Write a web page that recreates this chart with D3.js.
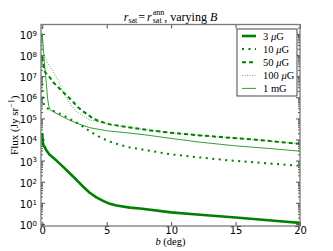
<!DOCTYPE html>
<html>
  <head>
    <meta http-equiv="Content-Type" content="text/html; charset=UTF-8">
    <script type="text/javascript" src="https://cdn.jsdelivr.net/npm/d3@7"></script>
    <style>
      body { margin: 0; background: #fff; }
      #chart { width: 333px; height: 251px; }
      text { fill: #000; }
    </style>
  </head>
  <body>
    <div id="chart"></div>
    <script>
// b (deg) vs flux (Jy/sr)
var b3uG   = [0, 0.03, 0.1, 0.18, 0.3, 0.57, 0.83, 1.1, 1.6, 2.13, 2.65, 3.16, 3.68, 4.2, 4.72, 5.24, 5.76, 6.8, 7.6, 10, 12, 15, 18, 20];
var flux3uG = [2.0e4, 8e3, 5.2e3, 4.6e3, 3.2e3, 1.9e3, 1.4e3, 1.0e3, 5.2e2, 2.5e2, 1.23e2, 5.9e1, 3.0e1, 1.8e1, 1.23e1, 8.9, 7.4, 5.9, 5.4, 3.5, 2.8, 2.0, 1.4, 1.12];

var b10uG   = [0, 0.03, 0.07, 0.15, 0.3, 0.6, 1, 1.5, 2, 2.5, 3, 3.7, 4.5, 5.25, 6, 6.8, 8.4, 9.9, 12, 14.7, 17.5, 20];
var flux10uG = [4.5e6, 1.6e6, 7e5, 4e5, 3.2e5, 2.6e5, 2.1e5, 1.5e5, 1.05e5, 7e4, 4.8e4, 2.4e4, 1.26e4, 7.9e3, 5.6e3, 4.2e3, 2.9e3, 2.0e3, 1.45e3, 1.0e3, 7.4e2, 5.6e2];

var b50uG   = [0, 0.05, 0.2, 0.55, 0.85, 1.2, 1.6, 2, 2.4, 2.75, 3.15, 3.55, 3.9, 4.5, 5.25, 6.8, 8.4, 9.9, 12.3, 16.2, 20];
var flux50uG = [8e7, 4.5e7, 1.6e7, 9.3e6, 5.2e6, 3.1e6, 1.8e6, 1.05e6, 6e5, 3.5e5, 2.2e5, 1.5e5, 1.0e5, 7.1e4, 5.2e4, 3.7e4, 2.7e4, 2.1e4, 1.55e4, 1.02e4, 6.2e3];

var b100uG   = [0, 0.1, 0.2, 0.5, 0.8, 1.27, 1.7, 2.2, 2.65, 3.2, 3.7, 4.5, 5.25, 6.8, 8.4, 9.9, 12.3, 16.2, 20];
var flux100uG = [3e8, 1.2e8, 8e7, 3.5e7, 2e7, 5.6e6, 1.4e6, 4.5e5, 2.1e5, 1.25e5, 8.3e4, 6.9e4, 5.2e4, 3.7e4, 2.7e4, 2.1e4, 1.55e4, 1.02e4, 6.2e3];

var b1mG   = [0, 0.05, 0.15, 0.28, 0.41, 0.5, 0.6, 0.9, 1.5, 2.1, 3, 3.7, 5, 6.5, 8, 10, 12.3, 15, 17.5, 20];
var flux1mG = [1.1e9, 4e8, 5e7, 7.9e6, 8.9e5, 4e5, 2.6e5, 2.0e5, 1.26e5, 8.3e4, 5e4, 3.6e4, 2.6e4, 2.1e4, 1.66e4, 1.12e4, 7.4e3, 5e3, 3.8e3, 2.8e3];

var xTicks = [0, 5, 10, 15, 20];
var yExponents = [0, 1, 2, 3, 4, 5, 6, 7, 8, 9];

var series = [
  {label: "3", unit: "μG", b: b3uG, flux: flux3uG, color: "#008000", width: 2.6, dash: null},
  {label: "10", unit: "μG", b: b10uG, flux: flux10uG, color: "#008000", width: 2, dash: "2,4.5"},
  {label: "50", unit: "μG", b: b50uG, flux: flux50uG, color: "#008000", width: 2, dash: "4,3"},
  {label: "100", unit: "μG", b: b100uG, flux: flux100uG, color: "#55b255", width: 1, dash: "1,1.5"},
  {label: "1", unit: "mG", b: b1mG, flux: flux1mG, color: "#33a033", width: 1, dash: null}
];

var width = 333, height = 251;
var margin = {top: 24.5, left: 41, right: 33, bottom: 25};
var w = width - margin.left - margin.right;
var h = height - margin.top - margin.bottom;

var svg = d3.select("#chart").append("svg")
    .attr("width", width)
    .attr("height", height);

var x = d3.scaleLinear().domain([-0.1, 20]).range([0, w]);
var y = d3.scaleLog().domain([Math.pow(10, -0.1), Math.pow(10, 9.45)]).range([h, 0]);

var g = svg.append("g").attr("transform", "translate(" + margin.left + "," + margin.top + ")");

g.append("defs").append("clipPath").attr("id", "clip")
  .append("rect").attr("width", w).attr("height", h);

// minor ticks on log axis
var minor = [];
for (var e = -1; e <= 9; e++) {
  for (var m = 2; m <= 9; m++) {
    var v = m * Math.pow(10, e);
    if (v >= y.domain()[0] && v <= y.domain()[1]) minor.push(v);
  }
}
var major = yExponents.map(function (d) { return Math.pow(10, d); });

function styleAxis(sel) {
  sel.select(".domain").remove();
  sel.selectAll(".tick line").attr("stroke", "#222").attr("stroke-width", 0.8);
}

g.append("g").attr("transform", "translate(0," + h + ")")
  .call(d3.axisBottom(x).tickValues(xTicks).tickSize(-4).tickPadding(0.5).tickFormat(d3.format("d")))
  .call(styleAxis)
  .selectAll("text").attr("font-family", "DejaVu Sans").attr("font-size", "10px").attr("fill", "#000");
g.append("g")
  .call(d3.axisTop(x).tickValues(xTicks).tickSize(-4).tickFormat(""))
  .call(styleAxis);

var yl = g.append("g")
  .call(d3.axisLeft(y).tickValues(major).tickSize(-4).tickPadding(5).tickFormat(""))
  .call(styleAxis);
g.append("g").call(d3.axisLeft(y).tickValues(minor).tickSize(-2).tickFormat("")).call(styleAxis);
g.append("g").attr("transform", "translate(" + w + ",0)")
  .call(d3.axisRight(y).tickValues(major).tickSize(-4).tickFormat("")).call(styleAxis);
g.append("g").attr("transform", "translate(" + w + ",0)")
  .call(d3.axisRight(y).tickValues(minor).tickSize(-2).tickFormat("")).call(styleAxis);

// 10^n labels
yl.selectAll(".tick text").each(function (d) {
  var t = d3.select(this).text(null)
      .attr("font-family", "DejaVu Sans").attr("fill", "#000")
      .attr("x", -4).attr("dy", "0.45em").attr("text-anchor", "end");
  t.append("tspan").attr("font-size", "10px").text("10");
  t.append("tspan").attr("font-size", "7px").attr("dy", "-0.45em").text(Math.round(Math.log10(d)));
});

// lines
var line = d3.line()
    .x(function (d) { return x(d[0]); })
    .y(function (d) { return y(d[1]); });

var plot = g.append("g").attr("clip-path", "url(#clip)");
series.slice().reverse().forEach(function (s) {
  plot.append("path")
      .datum(d3.zip(s.b, s.flux))
      .attr("fill", "none")
      .attr("stroke", s.color)
      .attr("stroke-width", s.width)
      .attr("stroke-dasharray", s.dash)
      .attr("stroke-linejoin", "round")
      .attr("d", line);
});

// frame
g.append("rect").attr("width", w).attr("height", h)
  .attr("fill", "none").attr("stroke", "#7a7a7a").attr("stroke-width", 1.3);

// legend
var lg = g.append("g").attr("transform", "translate(" + (237 - margin.left) + "," + (29 - margin.top) + ")");
lg.append("rect").attr("width", 60).attr("height", 67)
  .attr("fill", "#fff").attr("stroke", "#333").attr("stroke-width", 0.9);
series.forEach(function (s, i) {
  var yy = 7 + i * 13.1;
  lg.append("line").attr("x1", 5).attr("x2", 19).attr("y1", yy).attr("y2", yy)
    .attr("stroke", s.color).attr("stroke-width", s.width).attr("stroke-dasharray", s.dash);
  var t = lg.append("text").attr("x", 26).attr("y", yy + 3.5)
    .attr("font-family", "Liberation Serif").attr("font-size", "10.5px");
  t.append("tspan").text(s.label + " ");
  if (s.unit === "μG") {
    t.append("tspan").attr("font-style", "italic").text("μ");
    t.append("tspan").text("G");
  } else {
    t.append("tspan").text(s.unit);
  }
});

// axis labels
var xl = svg.append("text").attr("x", margin.left + w / 2).attr("y", 245)
  .attr("text-anchor", "middle").attr("font-family", "Liberation Serif").attr("font-size", "10.5px");
xl.append("tspan").attr("font-style", "italic").text("b");
xl.append("tspan").text(" (deg)");

var ylab = svg.append("text")
  .attr("transform", "translate(18," + (margin.top + h / 2) + ") rotate(-90)")
  .attr("text-anchor", "middle").attr("font-family", "Liberation Serif").attr("font-size", "11px");
ylab.append("tspan").text("Flux (Jy sr");
ylab.append("tspan").attr("font-size", "8px").attr("dy", "-0.5em").text("−1");
ylab.append("tspan").attr("dy", "0.35em").text(")");

// title, laid out piece by piece
var title = svg.append("g").attr("font-family", "Liberation Serif");
var pieces = [
  {t: "r", size: 12, style: "italic", dy: 0},
  {t: "sat", size: 8, dy: 2.5},
  {t: "=", size: 12, dy: 0, pad: 1},
  {t: "r", size: 12, style: "italic", dy: 0, pad: 1},
  {t: "sat", size: 8, dy: 2.5, stackWith: "ann"},
  {t: ", varying ", size: 12, dy: 0},
  {t: "B", size: 12, style: "italic", dy: 0}
];
var cx = 0, baseY = 20.5;
pieces.forEach(function (p) {
  cx += p.pad || 0;
  var tx = title.append("text").attr("x", cx).attr("y", baseY + p.dy)
    .attr("font-size", p.size + "px").attr("font-style", p.style || "normal")
    .attr("xml:space", "preserve").style("white-space", "pre").text(p.t);
  var len = tx.node().getComputedTextLength();
  if (p.stackWith) {
    var sup = title.append("text").attr("x", cx).attr("y", baseY - 5.5)
      .attr("font-size", p.size + "px").text(p.stackWith);
    len = Math.max(len, sup.node().getComputedTextLength());
  }
  cx += len + (p.pad || 0);
});
title.attr("transform", "translate(" + (margin.left + w / 2 - cx / 2) + ",0)");
    </script>
</body></html>
